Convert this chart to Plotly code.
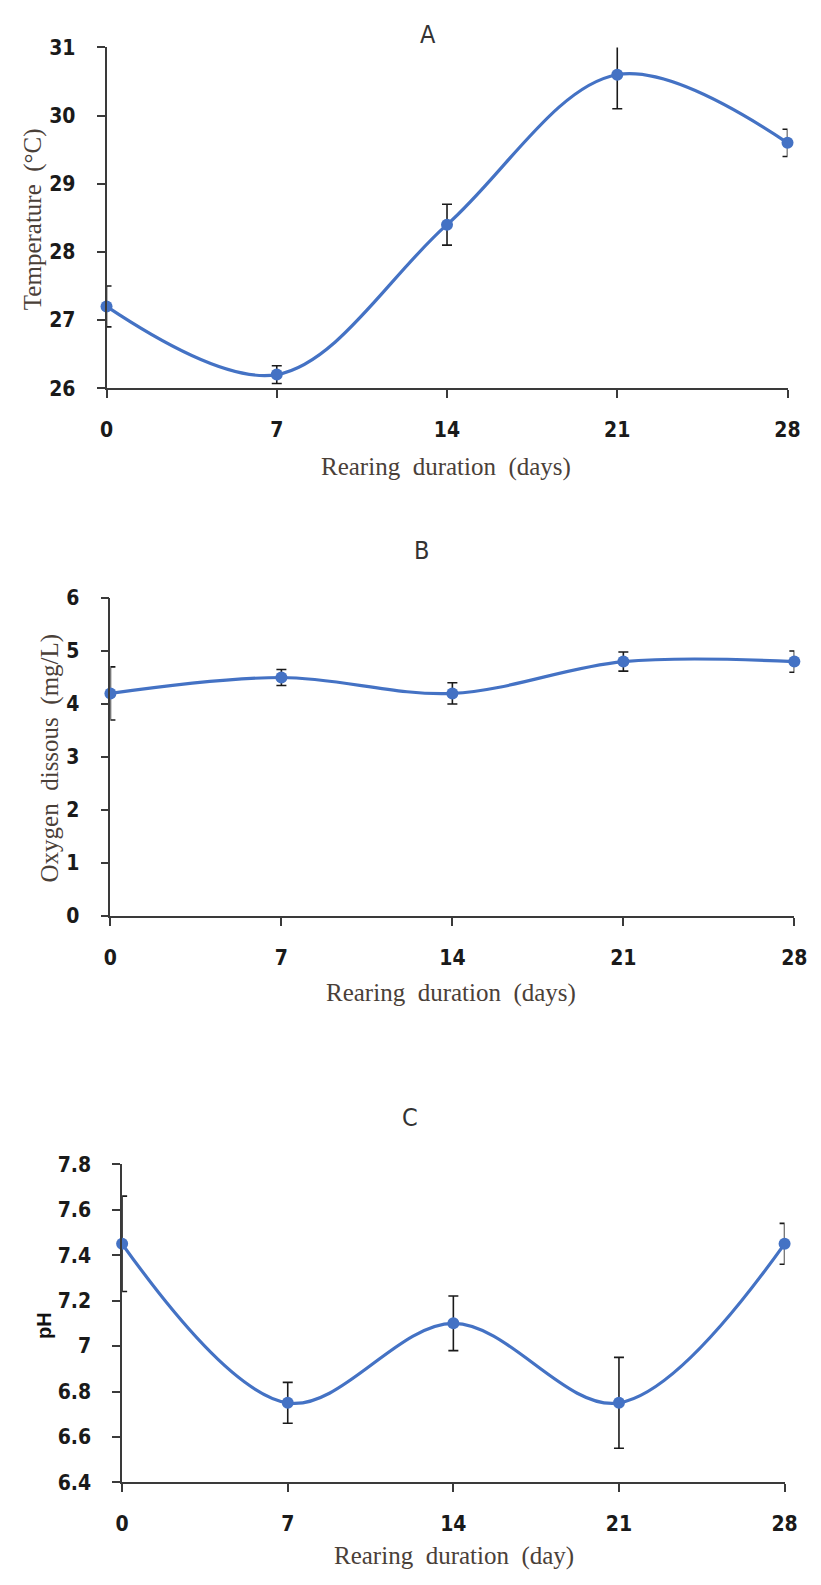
import plotly.graph_objects as go

# ---------------- data ----------------
days = [0, 7, 14, 21, 28]
day_ticks = ["0", "7", "14", "21", "28"]

temp_mean = [27.2, 26.2, 28.4, 30.6, 29.6]
temp_err = [0.3, 0.13, 0.3, 0.5, 0.2]

oxy_mean = [4.2, 4.5, 4.2, 4.8, 4.8]
oxy_err = [0.5, 0.15, 0.2, 0.18, 0.2]

ph_mean = [7.45, 6.75, 7.1, 6.75, 7.45]
ph_err = [0.21, 0.09, 0.12, 0.2, 0.09]

temp_ticks = [26, 27, 28, 29, 30, 31]
oxy_ticks = [0, 1, 2, 3, 4, 5, 6]
ph_ticks = [6.4, 6.6, 6.8, 7.0, 7.2, 7.4, 7.6, 7.8]
ph_ticktext = ["6.4", "6.6", "6.8", "7", "7.2", "7.4", "7.6", "7.8"]

# ---------------- style ----------------
W, H = 821, 1585
BLUE = "#4472C4"
AX = "#3a3a3a"
TICKFONT = dict(family="Liberation Sans Narrow, DejaVu Sans Condensed, Roboto, sans-serif",
                size=21, color="#1a1a1a", weight="bold")
SERIF = dict(family="Liberation Serif, Times New Roman, serif", size=25, color="#4a4038")
TITLEFONT = dict(family="Liberation Sans Narrow, DejaVu Sans Condensed, Roboto, sans-serif",
                 size=25, color="#333333")
SP = "\u00a0\u00a0"


def px_x(p):
    return p / W


def px_y(p):
    return 1 - p / H


panels = [
    dict(ax="x", ay="y", mean=temp_mean, err=temp_err, xpx=(102, 800), ypx=(36, 382),
         yr=[26, 31], yt=temp_ticks, ytext=[str(t) for t in temp_ticks]),
    dict(ax="x2", ay="y2", mean=oxy_mean, err=oxy_err, xpx=(106, 807), ypx=(595, 918),
         yr=[0, 6], yt=oxy_ticks, ytext=[str(t) for t in oxy_ticks]),
    dict(ax="x3", ay="y3", mean=ph_mean, err=ph_err, xpx=(118, 797), ypx=(1170, 1493),
         yr=[6.4, 7.8], yt=ph_ticks, ytext=ph_ticktext),
]

fig = go.Figure()
layout = dict(
    width=W, height=H, autosize=False,
    margin=dict(l=0, r=0, t=0, b=0),
    paper_bgcolor="white", plot_bgcolor="white",
    showlegend=False,
)

for i, p in enumerate(panels):
    # error bars (clipped to the plot area like the original)
    fig.add_trace(go.Scatter(
        x=days, y=p["mean"], xaxis=p["ax"], yaxis=p["ay"],
        mode="markers", marker=dict(size=1, opacity=0), cliponaxis=True,
        error_y=dict(type="data", array=p["err"], visible=True,
                     color="#1a1a1a", thickness=1.6, width=5),
        hoverinfo="skip",
    ))
    # smoothed line with markers
    fig.add_trace(go.Scatter(
        x=days, y=p["mean"], xaxis=p["ax"], yaxis=p["ay"],
        mode="lines+markers", cliponaxis=False,
        line=dict(color=BLUE, width=3.2, shape="spline", smoothing=1.0),
        marker=dict(color=BLUE, size=12),
    ))
    suf = "" if i == 0 else str(i + 1)
    layout["xaxis" + suf] = dict(
        domain=[px_x(p["xpx"][0]), px_x(p["xpx"][1])],
        anchor=p["ay"], range=[0, 28],
        tickvals=days, ticktext=day_ticks,
        showgrid=False, zeroline=False, showline=True,
        linecolor=AX, linewidth=1.6, ticks="outside", ticklen=8,
        tickwidth=1.6, tickcolor=AX, tickfont=TICKFONT, ticklabelstandoff=14,
    )
    layout["yaxis" + suf] = dict(
        domain=[px_y(p["ypx"][1]), px_y(p["ypx"][0])],
        anchor=p["ax"], range=p["yr"],
        tickvals=p["yt"], ticktext=p["ytext"],
        showgrid=False, zeroline=False, showline=True,
        linecolor=AX, linewidth=1.6, ticks="outside", ticklen=8,
        tickwidth=1.6, tickcolor=AX, tickfont=TICKFONT, ticklabelstandoff=17,
    )

fig.update_layout(**layout)

annos = [
    # panel titles
    dict(text="A", x=px_x(431), y=px_y(23), font=TITLEFONT),
    dict(text="B", x=px_x(425), y=px_y(547), font=TITLEFONT),
    dict(text="C", x=px_x(413), y=px_y(1123), font=TITLEFONT),
    # x-axis titles
    dict(text=f"Rearing{SP}duration{SP}(days)", x=px_x(450), y=px_y(462), font=SERIF),
    dict(text=f"Rearing{SP}duration{SP}(days)", x=px_x(455), y=px_y(996), font=SERIF),
    dict(text=f"Rearing{SP}duration{SP}(day)", x=px_x(458), y=px_y(1568), font=SERIF),
    # y-axis titles
    dict(text=f"Temperature{SP}(°C)", x=px_x(26), y=px_y(210), font=SERIF, textangle=-90),
    dict(text=f"Oxygen{SP}dissous{SP}(mg/L)", x=px_x(44), y=px_y(757), font=SERIF, textangle=-90),
    dict(text="pH", x=px_x(38), y=px_y(1334), textangle=-90,
         font=dict(family="Liberation Sans, Arial, sans-serif", size=20,
                   color="#111111", weight="bold")),
]
for a in annos:
    fig.add_annotation(xref="paper", yref="paper", showarrow=False,
                       xanchor="center", yanchor="middle", **a)

fig.write_html(
    "out.html",
    config={"displayModeBar": False},
    post_script="document.body.style.margin='0';document.body.style.overflow='hidden';",
)
